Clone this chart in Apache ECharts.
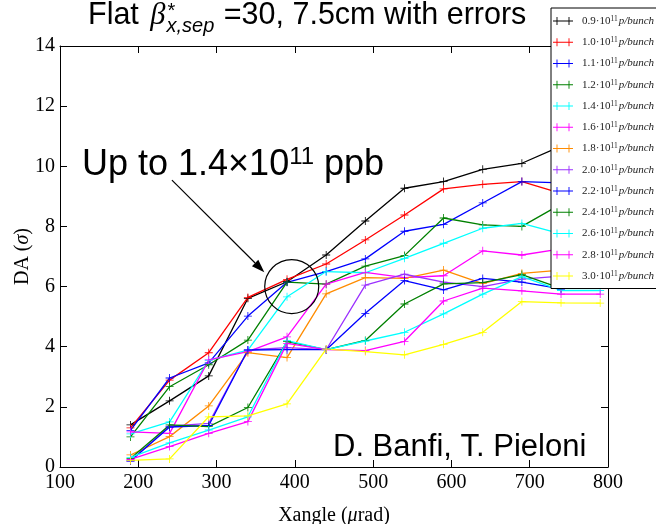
<!DOCTYPE html>
<html>
<head>
<meta charset="utf-8">
<script src="https://cdn.jsdelivr.net/npm/echarts@6/dist/echarts.min.js"></script>
<style>
  html, body { margin: 0; padding: 0; background: #fff; }
  #chart { width: 656px; height: 524px; }
</style>
</head>
<body>
<div id="chart"></div>
<script>
// Crossing angle scan points (µrad)
const xangle = [190, 240, 290, 340, 390, 440, 490, 540, 590, 640, 690, 740, 790];

// Bunch intensities (×10^11 p/bunch)
const bunchIntensity = ['0.9', '1.0', '1.1', '1.2', '1.4', '1.6', '1.8', '2.0', '2.2', '2.4', '2.6', '2.8', '3.0'];

// Dynamic aperture (sigma) per intensity
const da09 = [1.40, 2.20, 3.03, 5.61, 6.16, 7.05, 8.18, 9.27, 9.49, 9.90, 10.10, 10.67, 11.10];
const da10 = [1.30, 2.89, 3.80, 5.64, 6.24, 6.75, 7.55, 8.38, 9.25, 9.40, 9.49, 9.10, 9.00];
const da11 = [1.22, 2.96, 3.46, 5.02, 6.14, 6.50, 6.92, 7.84, 8.07, 8.78, 9.49, 9.45, 9.40];
const da12 = [1.00, 2.67, 3.40, 4.22, 6.15, 6.08, 6.68, 7.03, 8.28, 8.05, 8.00, 8.74, 8.90];
const da14 = [1.10, 1.50, 3.55, 3.89, 5.66, 6.50, 6.46, 6.94, 7.44, 7.94, 8.10, 7.75, 7.70];
const da16 = [1.17, 1.12, 3.56, 3.84, 4.33, 6.08, 6.47, 6.30, 6.36, 7.19, 7.05, 7.25, 7.30];
const da18 = [0.40, 1.01, 2.03, 3.80, 3.64, 5.76, 6.30, 6.27, 6.55, 6.10, 6.44, 6.55, 6.60];
const da20 = [0.20, 1.36, 1.45, 3.89, 3.97, 3.90, 6.05, 6.41, 6.15, 6.00, 6.25, 6.35, 6.40];
const da22 = [0.20, 1.33, 1.38, 3.89, 3.90, 3.90, 5.11, 6.20, 5.89, 6.27, 6.15, 5.92, 6.10];
const da24 = [0.28, 1.40, 1.34, 1.98, 4.17, 3.90, 4.21, 5.42, 6.09, 6.13, 6.40, 5.94, 6.15];
const da26 = [0.32, 0.80, 1.23, 1.67, 4.20, 3.90, 4.19, 4.48, 5.09, 5.75, 6.33, 5.87, 5.87];
const da28 = [0.25, 0.68, 1.12, 1.51, 4.11, 3.90, 3.87, 4.18, 5.52, 5.95, 5.86, 5.75, 5.75];
const da30 = [0.22, 0.27, 1.67, 1.70, 2.10, 3.92, 3.84, 3.73, 4.08, 4.48, 5.50, 5.46, 5.45];

const daValues = [da09, da10, da11, da12, da14, da16, da18, da20, da22, da24, da26, da28, da30];

const lineColors = ['#000000', '#ff0000', '#0000ff', '#008000', '#00ffff', '#ff00ff',
                    '#ff8c00', '#9b30ff', '#0000ff', '#008000', '#00ffff', '#ff00ff', '#ffff00'];

// Annotation anchors, in data coordinates
const ringCenter = [396, 6.0];
const arrowTail = [243, 9.54];
const arrowTip = [361, 6.48];

const PLUS = 'path://M0,4.5H10V5.5H0Z M4.5,0H5.5V10H4.5Z';
const LEGEND_MARK = 'path://M0,3.55H20V4.45H0Z M3.55,0H4.45V8H3.55Z M15.55,0H16.45V8H15.55Z';

const SERIF = '"Liberation Serif", "DejaVu Serif", serif';
const SANS = '"Liberation Sans", Arial, sans-serif';

const chart = echarts.init(document.getElementById('chart'), null, { renderer: 'canvas' });

function frameAxis(extra) {
  return Object.assign({
    type: 'value',
    axisLine: { show: true, onZero: false, lineStyle: { color: '#000', width: 1 } },
    axisTick: { show: true, inside: true, length: 7, lineStyle: { color: '#000', width: 1 } },
    splitLine: { show: false },
    axisLabel: { show: false }
  }, extra);
}

const xLabel = { show: true, fontFamily: SERIF, fontSize: 20, color: '#000', margin: 6 };
const yLabel = { show: true, fontFamily: SERIF, fontSize: 20, color: '#000', margin: 5 };
const legendSize = 11;

chart.setOption({
  animation: false,
  backgroundColor: '#fff',
  grid: { left: 60, right: 48, top: 46, bottom: 57, containLabel: false, outerBoundsMode: 'none' },
  xAxis: [
    frameAxis({
      position: 'bottom', min: 100, max: 800, interval: 100, axisLabel: xLabel,
      name: '{r|Xangle (}{i|μ}{r|rad)}', nameLocation: 'middle', nameGap: 39,
      nameMoveOverlap: false,
      nameTextStyle: {
        color: '#000',
        rich: {
          r: { fontFamily: SERIF, fontSize: 20, color: '#000' },
          i: { fontFamily: SERIF, fontSize: 20, fontStyle: 'italic', color: '#000' }
        }
      }
    }),
    frameAxis({ position: 'top', min: 100, max: 800, interval: 100 })
  ],
  yAxis: [
    frameAxis({
      position: 'left', min: 0, max: 14, interval: 2, axisLabel: yLabel,
      name: '{r|DA (}{i|σ}{r|)}', nameLocation: 'middle', nameGap: 27,
      nameMoveOverlap: false,
      nameTextStyle: {
        color: '#000',
        rich: {
          r: { fontFamily: SERIF, fontSize: 20, color: '#000' },
          i: { fontFamily: SERIF, fontSize: 20, fontStyle: 'italic', color: '#000' }
        }
      }
    }),
    frameAxis({ position: 'right', min: 0, max: 14, interval: 2 })
  ],
  legend: {
    orient: 'vertical',
    left: 551, top: 8,
    padding: [7, 14, 7, 2],
    itemWidth: 20, itemHeight: 8, itemGap: 9.75,
    backgroundColor: '#fff', borderColor: '#000', borderWidth: 1, borderRadius: 0,
    icon: LEGEND_MARK,
    itemStyle: { borderWidth: 0 },
    selectedMode: false,
    data: bunchIntensity,
    formatter: (n) => `{g| }{n|${n}·10}{s|11}{i|p/bunch}`,
    textStyle: {
      fontFamily: SERIF, fontSize: legendSize, color: '#222',
      rich: {
        g: { fontSize: 4, width: 4, lineHeight: 12 },
        n: { fontFamily: SERIF, fontSize: legendSize, lineHeight: 12, verticalAlign: 'middle', color: '#222' },
        s: { fontFamily: SERIF, fontSize: 7.5, lineHeight: 8, verticalAlign: 'top', color: '#222' },
        i: { fontFamily: SERIF, fontSize: legendSize, fontStyle: 'italic', lineHeight: 12, verticalAlign: 'middle', padding: [0, 0, 0, 1], color: '#222' }
      }
    }
  },
  series: bunchIntensity.map((b, i) => ({
    name: b,
    type: 'line',
    xAxisIndex: 0, yAxisIndex: 0,
    data: xangle.map((x, j) => [x, daValues[i][j]]),
    symbol: PLUS,
    symbolSize: 8,
    showSymbol: true,
    showAllSymbol: true,
    lineStyle: { color: lineColors[i], width: 1.3 },
    itemStyle: { color: lineColors[i], borderWidth: 0 },
    emphasis: { disabled: true },
    z: 2
  }))
});

// Text measurement for the composed title
const measureCtx = document.createElement('canvas').getContext('2d');
function textWidth(str, font) {
  measureCtx.font = font;
  return measureCtx.measureText(str).width;
}

const titleX = 88;
const titleBase = 26.5;
const titleSize = 30.5;
const wFlat = textWidth('Flat ', `${titleSize}px ${SANS}`);
const wBeta = textWidth('β', `italic ${titleSize}px ${SERIF}`);
const subSize = 20;
const wSub = textWidth('x,sep', `italic ${subSize}px ${SANS}`);
const betaX = titleX + wFlat + 3;
const subX = betaX + wBeta + 1;
const restX = subX + wSub + 1;

function textEl(x, y, text, size, family, extra) {
  return {
    type: 'text', z: 20,
    style: Object.assign({
      x: x, y: y, text: text, fill: '#000',
      fontSize: size, fontFamily: family,
      align: 'left', verticalAlign: 'middle'
    }, extra || {})
  };
}

const c = chart.convertToPixel({ gridIndex: 0 }, ringCenter);
const t0 = chart.convertToPixel({ gridIndex: 0 }, arrowTail);
const t1 = chart.convertToPixel({ gridIndex: 0 }, arrowTip);
const dx = t1[0] - t0[0], dy = t1[1] - t0[1];
const len = Math.hypot(dx, dy);
const ux = dx / len, uy = dy / len;
const headLen = 13, headHalf = 4.5;
const bx = t1[0] - ux * headLen, by = t1[1] - uy * headLen;

chart.setOption({
  graphic: [
    // title
    textEl(titleX, titleBase - 0.35 * titleSize, 'Flat ', titleSize, SANS),
    textEl(betaX, titleBase - 0.34 * titleSize, 'β', titleSize, SERIF, { fontStyle: 'italic' }),
    textEl(subX + 1, 11.5, '*', 20, SANS),
    textEl(subX, titleBase + 7 - 0.35 * subSize, 'x,sep', subSize, SANS, { fontStyle: 'italic' }),
    textEl(restX, titleBase - 0.35 * titleSize, ' =30, 7.5cm with errors', titleSize, SANS),
    // annotation text
    {
      type: 'text', z: 20,
      style: {
        x: 82, y: 165.5, fill: '#000',
        text: '{a|Up to 1.4×10}{s|11}{a| ppb}',
        align: 'left', verticalAlign: 'middle',
        rich: {
          a: { fontFamily: SANS, fontSize: 36, lineHeight: 40, verticalAlign: 'middle', fill: '#000' },
          s: { fontFamily: SANS, fontSize: 24, lineHeight: 23, verticalAlign: 'top', fill: '#000' }
        }
      }
    },
    textEl(333, 447.2, 'D. Banfi, T. Pieloni', 31, SANS),
    // ring and arrow
    {
      type: 'circle', z: 15,
      shape: { cx: c[0], cy: c[1], r: 27 },
      style: { fill: 'none', stroke: '#000', lineWidth: 1.2 }
    },
    {
      type: 'line', z: 15,
      shape: { x1: t0[0], y1: t0[1], x2: bx, y2: by },
      style: { stroke: '#000', lineWidth: 1.2 }
    },
    {
      type: 'polygon', z: 15,
      shape: { points: [
        [t1[0], t1[1]],
        [bx - uy * headHalf, by + ux * headHalf],
        [bx + uy * headHalf, by - ux * headHalf]
      ] },
      style: { fill: '#000' }
    }
  ]
});
</script>
</body>
</html>
